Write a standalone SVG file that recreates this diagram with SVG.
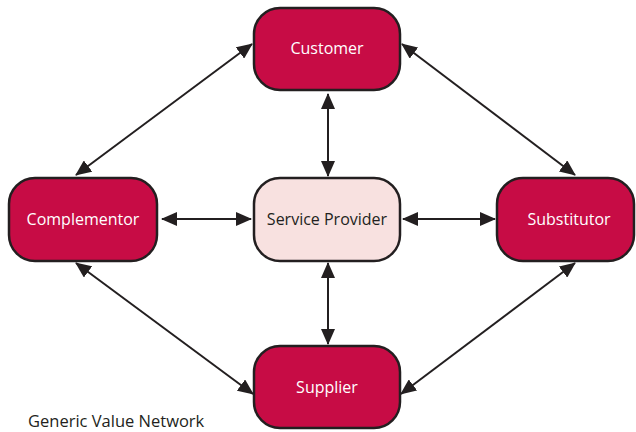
<svg xmlns="http://www.w3.org/2000/svg" width="636" height="432" viewBox="0 0 636 432">
  <style>
    .node { fill: #C70C45; stroke: #231F20; stroke-width: 2.5; }
    .center { fill: #F8E1E0; stroke: #231F20; stroke-width: 2.5; }
    .lbl { font-family: "Open Sans", "Noto Sans", sans-serif; font-size: 16px; text-anchor: middle; fill: #FFFFFF; }
    .lbl-dark { fill: #231F20; }
    .edge { stroke: #231F20; stroke-width: 2; fill: none; marker-start: url(#ah); marker-end: url(#ah); }
    .caption { font-family: "Open Sans", "Noto Sans", sans-serif; font-size: 16.5px; fill: #231F20; }
  </style>
  <defs>
    <marker id="ah" markerUnits="userSpaceOnUse" markerWidth="16" markerHeight="14" refX="15" refY="7" orient="auto-start-reverse" viewBox="0 0 16 14">
      <path d="M0,0 L16,7 L0,14 z" fill="#231F20"/>
    </marker>
  </defs>
  <rect width="636" height="432" fill="#FFFFFF"/>
  <g id="connectors">
    <line class="edge" x1="328" y1="94" x2="328" y2="176"/>
    <line class="edge" x1="328" y1="263" x2="328" y2="344"/>
    <line class="edge" x1="162" y1="219" x2="251" y2="219"/>
    <line class="edge" x1="403" y1="219" x2="495" y2="219"/>
    <line class="edge" x1="252" y1="44" x2="76" y2="175"/>
    <line class="edge" x1="402" y1="44" x2="575" y2="175"/>
    <line class="edge" x1="76" y1="263" x2="253" y2="394"/>
    <line class="edge" x1="575" y1="263" x2="401" y2="394"/>
  </g>
  <g id="customer">
    <rect class="node" x="254" y="8" width="146" height="82" rx="26"/>
    <text class="lbl" x="327" y="54">Customer</text>
  </g>
  <g id="complementor">
    <rect class="node" x="9" y="178" width="148" height="83" rx="26"/>
    <text class="lbl" x="83" y="225">Complementor</text>
  </g>
  <g id="service-provider">
    <rect class="center" x="254" y="178" width="146" height="83" rx="26"/>
    <text class="lbl lbl-dark" x="327" y="225">Service Provider</text>
  </g>
  <g id="substitutor">
    <rect class="node" x="497" y="178" width="137" height="83" rx="26"/>
    <text class="lbl" x="569" y="225">Substitutor</text>
  </g>
  <g id="supplier">
    <rect class="node" x="254" y="346" width="146" height="82" rx="26"/>
    <text class="lbl" x="327" y="393">Supplier</text>
  </g>
  <text class="caption" x="28" y="427">Generic Value Network</text>
</svg>
